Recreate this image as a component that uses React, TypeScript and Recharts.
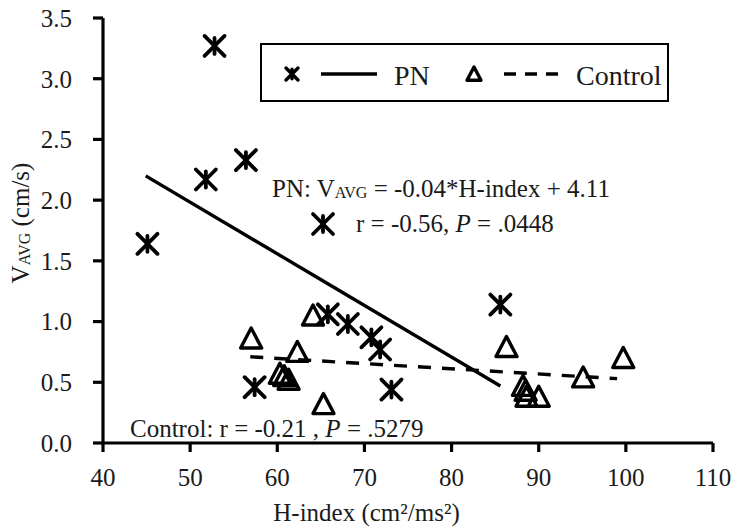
import React from "react";
import {Legend, Scatter, ScatterChart, XAxis, YAxis} from "recharts";

// PN group (stars)
const pnH = [45.1, 51.8, 52.8, 56.4, 57.4, 65.8, 68.1, 70.8, 71.8, 73.1, 85.6];
const pnV = [1.64, 2.17, 3.27, 2.33, 0.46, 1.06, 0.98, 0.87, 0.77, 0.44, 1.14];

// Control group (triangles)
const ctrlH = [57.0, 60.3, 60.8, 61.3, 62.3, 64.1, 65.3, 86.3, 88.2, 88.5, 88.6, 90.0, 95.1, 99.7];
const ctrlV = [0.86, 0.57, 0.55, 0.52, 0.75, 1.05, 0.32, 0.79, 0.47, 0.43, 0.38, 0.38, 0.54, 0.70];

// fitted lines, as drawn (end points)
const pnTrendH = [44.9, 85.6];
const pnTrendV = [2.2, 0.47];
const ctrlTrendH = [56.9, 99.0];
const ctrlTrendV = [0.71, 0.53];

const xTicks = [40, 50, 60, 70, 80, 90, 100, 110];
const yTicks = [0, 0.5, 1, 1.5, 2, 2.5, 3, 3.5];

const FONT = "'Liberation Serif', 'Times New Roman', serif";
const INK = "#1a1a1a";

const toPoints = (hs: number[], vs: number[]) => hs.map((h, i) => ({h, v: vs[i]}));

function Star({cx, cy, r = 10, w = 3.8}: any) {
    return (
        <g stroke="#000" strokeWidth={w} fill="none" strokeLinecap="round">
            <line x1={cx - r} y1={cy - r} x2={cx + r} y2={cy + r}/>
            <line x1={cx - r} y1={cy + r} x2={cx + r} y2={cy - r}/>
            <line x1={cx} y1={cy - r * 0.8} x2={cx} y2={cy + r * 0.8}/>
        </g>
    );
}

function Tri({cx, cy, s = 10.5, w = 3.4}: any) {
    const pts = `${cx},${cy - s} ${cx + s},${cy + s * 0.9} ${cx - s},${cy + s * 0.9}`;
    return <polygon points={pts} fill="none" stroke="#000" strokeWidth={w} strokeLinejoin="round"/>;
}

function LegendBox() {
    return (
        <svg width={410} height={60} style={{display: "block"}} fontFamily={FONT}>
            <rect x={1} y={1} width={407} height={57} fill="#fff" stroke="#000" strokeWidth={2}/>
            <Star cx={32} cy={31} r={6} w={3.4}/>
            <line x1={61} y1={31} x2={117} y2={31} stroke="#000" strokeWidth={3.4}/>
            <text x={134} y={42} fontSize={28} fill={INK}>PN</text>
            <Tri cx={214} cy={31} s={7} w={3.4}/>
            <line x1={244} y1={31} x2={298} y2={31} stroke="#000" strokeWidth={3.4} strokeDasharray="12 9"/>
            <text x={316} y={42} fontSize={28} fill={INK}>Control</text>
        </svg>
    );
}

function XLabel({viewBox}: any) {
    const x = viewBox.x + viewBox.width * 0.432;
    const y = viewBox.y + 78;
    return (
        <text x={x} y={y} textAnchor="middle" fontSize={25} fontFamily={FONT} fill={INK}>
            H-index (cm²/ms²)
        </text>
    );
}

function YLabel({viewBox}: any) {
    const x = viewBox.x + 29;
    const y = viewBox.y + 205;
    return (
        <text x={x} y={y} transform={`rotate(-90, ${x}, ${y})`} textAnchor="middle" fontSize={25}
              fontFamily={FONT} fill={INK}>
            V<tspan fontSize={16} dy={1}>AVG</tspan><tspan dy={-1}> (cm/s)</tspan>
        </text>
    );
}

export default function App() {
    const pnData = toPoints(pnH, pnV);
    const ctrlData = toPoints(ctrlH, ctrlV);
    const pnTrend = toPoints(pnTrendH, pnTrendV);
    const ctrlTrend = toPoints(ctrlTrendH, ctrlTrendV);

    const tickStyle = {fontSize: 25, fontFamily: FONT, fill: INK};
    const axisStroke = {stroke: "#000", strokeWidth: 3.2};

    return (
        <div style={{position: "absolute", left: 0, top: 0, width: 733, height: 532, background: "#fff"}}>
            <ScatterChart width={733} height={532} margin={{top: 18, right: 20, bottom: 0, left: 0}}>
                <XAxis type="number" dataKey="h" domain={[40, 110]} ticks={xTicks} interval={0}
                       height={89} tickSize={9} tickMargin={16} tick={tickStyle}
                       axisLine={axisStroke} tickLine={axisStroke} label={<XLabel/>}/>
                <YAxis type="number" dataKey="v" domain={[0, 3.5]} ticks={yTicks} interval={0}
                       width={103} tickSize={10} tickMargin={21} tick={tickStyle}
                       tickFormatter={(v: number) => v.toFixed(1)}
                       axisLine={axisStroke} tickLine={axisStroke} label={<YLabel/>}/>
                <Scatter data={pnTrend} line={{stroke: "#000", strokeWidth: 3.4}} shape={() => <g/>}
                         legendType="none" isAnimationActive={false}/>
                <Scatter data={ctrlTrend} line={{stroke: "#000", strokeWidth: 3.4, strokeDasharray: "13 11"}}
                         shape={() => <g/>} legendType="none" isAnimationActive={false}/>
                <Scatter name="PN" data={pnData} shape={(p: any) => <Star cx={p.cx} cy={p.cy}/>}
                         isAnimationActive={false}/>
                <Scatter name="Control" data={ctrlData} shape={(p: any) => <Tri cx={p.cx} cy={p.cy}/>}
                         isAnimationActive={false}/>
                <Legend verticalAlign="middle" align="center" content={() => <LegendBox/>}
                        wrapperStyle={{left: 260, top: 43, width: 410, height: 60}}/>
            </ScatterChart>
            <svg width={733} height={532} style={{position: "absolute", left: 0, top: 0, pointerEvents: "none"}}
                 fontFamily={FONT} fill={INK}>
                <text x={272} y={197} fontSize={25}>
                    PN: V<tspan fontSize={16} dy={1}>AVG</tspan><tspan dy={-1}> = -0.04*H-index + 4.11</tspan>
                </text>
                <Star cx={323} cy={224}/>
                <text x={356} y={232} fontSize={25}>
                    r = -0.56, <tspan fontStyle="italic">P</tspan> = .0448
                </text>
                <text x={130} y={437} fontSize={25}>
                    Control: r = -0.21 , <tspan fontStyle="italic">P</tspan> = .5279
                </text>
            </svg>
        </div>
    );
}
